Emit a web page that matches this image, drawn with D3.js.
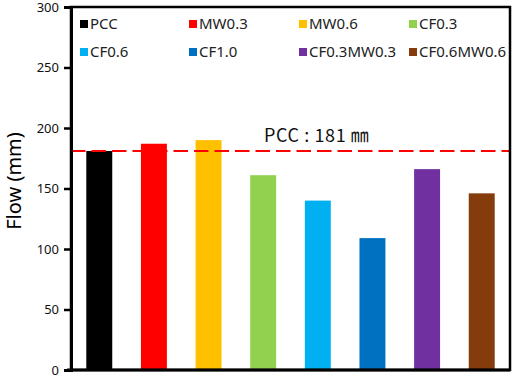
<!DOCTYPE html>
<html>
<head>
<meta charset="utf-8">
<script src="https://cdn.jsdelivr.net/npm/d3@7"></script>
<style>
  body { margin: 0; background: #fff; }
  text { font-family: "Noto Sans", "Open Sans", sans-serif; }
</style>
</head>
<body>
<div id="chart"></div>
<script>

var categories = ["PCC", "MW0.3", "MW0.6", "CF0.3", "CF0.6", "CF1.0", "CF0.3MW0.3", "CF0.6MW0.6"];
var flowValues = [181, 187, 190, 161, 140, 109, 166, 146];
var barColors = ["#000000", "#ff0000", "#ffc000", "#92d050", "#00b0f0", "#0070c0", "#7030a0", "#843c0c"];
var yTicks = [0, 50, 100, 150, 200, 250, 300];
var refValue = 181;
var refLabel = "PCC : 181 ㎜";
var yTitle = "Flow (mm)";

var width = 514, height = 377;
var margin = {top: 7, right: 4, bottom: 7, left: 71};

var svg = d3.select("#chart").append("svg")
	.attr("width", width)
	.attr("height", height);

var x = d3.scaleBand()
	.domain(categories)
	.range([margin.left, width - margin.right])
	.paddingInner(0.525)
	.paddingOuter(0.28);

var y = d3.scaleLinear()
	.domain([0, 300])
	.range([height - margin.bottom, margin.top]);

//bars
svg.selectAll("rect.bar")
	.data(categories)
	.enter()
	.append("rect")
	.attr("class", "bar")
	.attr("x", function(d) { return x(d); })
	.attr("width", x.bandwidth())
	.attr("y", function(d, i) { return y(flowValues[i]); })
	.attr("height", function(d, i) { return y(0) - y(flowValues[i]); })
	.style("fill", function(d, i) { return barColors[i]; });

//reference line for PCC
svg.append("line")
	.attr("x1", margin.left)
	.attr("x2", width - margin.right)
	.attr("y1", y(refValue))
	.attr("y2", y(refValue))
	.style("stroke", "#ff0000")
	.style("stroke-width", 2)
	.style("stroke-dasharray", "14.5,6");

svg.append("text")
	.attr("x", 264)
	.attr("y", y(refValue) - 9)
	.style("font-family", "'Noto Sans CJK KR', 'Noto Sans', sans-serif")
	.style("font-size", "18px")
	.style("letter-spacing", "0.6px")
	.style("fill", "#111")
	.text(refLabel);

//frame
svg.append("rect")
	.attr("x", margin.left)
	.attr("y", margin.top)
	.attr("width", width - margin.right - margin.left)
	.attr("height", height - margin.bottom - margin.top)
	.style("fill", "none")
	.style("stroke", "#000")
	.style("stroke-width", 2.5);

//y axis
var yAxis = svg.append("g")
	.attr("transform", "translate(" + margin.left + ",0)")
	.call(d3.axisLeft(y).tickValues(yTicks).tickSize(7).tickPadding(5));

yAxis.select(".domain").style("stroke-width", 3);
yAxis.selectAll(".tick line").style("stroke-width", 2.5);
yAxis.selectAll(".tick text")
	.style("font-size", "13px")
	.style("font-family", "'Noto Sans', sans-serif")
	.style("fill", "#111");

//bottom axis line
svg.append("line")
	.attr("x1", margin.left - 4)
	.attr("x2", width - margin.right)
	.attr("y1", y(0))
	.attr("y2", y(0))
	.style("stroke", "#000")
	.style("stroke-width", 3);

svg.append("text")
	.attr("transform", "translate(21," + 181 + ") rotate(-90)")
	.attr("text-anchor", "middle")
	.style("font-size", "20px")
	.style("fill", "#000")
	.text(yTitle);

//legend, 4 columns x 2 rows
var legendX = [80, 189, 299, 409];
var legendY = [24, 52];

var legend = svg.selectAll("g.legend")
	.data(categories)
	.enter()
	.append("g")
	.attr("class", "legend")
	.attr("transform", function(d, i) {
		return "translate(" + legendX[i % 4] + "," + legendY[Math.floor(i / 4)] + ")";
	});

legend.append("rect")
	.attr("x", 0)
	.attr("y", -4)
	.attr("width", 8)
	.attr("height", 8)
	.style("fill", function(d, i) { return barColors[i]; });

legend.append("text")
	.attr("x", 10)
	.attr("y", 0)
	.attr("dy", "0.36em")
	.style("font-size", "15px")
	.style("fill", "#222")
	.text(function(d) { return d; });

</script>
</body>
</html>
